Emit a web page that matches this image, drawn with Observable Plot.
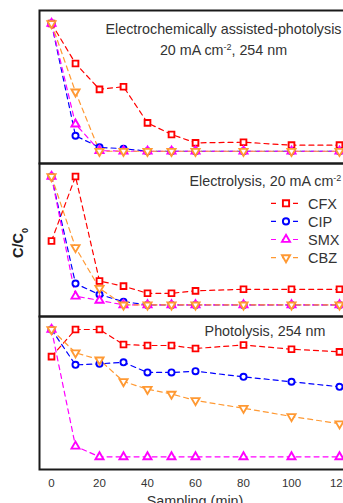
<!DOCTYPE html>
<html>
<head>
<meta charset="utf-8">
<script src="https://cdn.jsdelivr.net/npm/d3@7"></script>
<script src="https://cdn.jsdelivr.net/npm/@observablehq/plot@0.6"></script>
<style>
  html, body { margin: 0; padding: 0; background: #fff; overflow: hidden; }
  #wrap { position: relative; width: 343px; height: 503px; overflow: hidden; }
  #chart { position: absolute; left: 0; top: 0; width: 352px; }
  #chart svg { max-width: none !important; }
  #overlay { position: absolute; left: 0; top: 0; pointer-events: none; }
</style>
</head>
<body>
<div id="wrap"><div id="chart"></div><svg id="overlay" width="343" height="503"></svg></div>
<script>
// ---- data ----
const times = [0, 10, 20, 30, 40, 50, 60, 80, 100, 120];
const xTicks = [0, 20, 40, 60, 80, 100, 120];
const panels = ["EAP", "EL", "PH"];
const panelTitles = ["Electrochemically assisted-photolysis\n20 mA cm-2, 254 nm", "Electrolysis, 20 mA cm-2", "Photolysis, 254 nm"];
const series = ["CFX", "CIP", "SMX", "CBZ"];
const colors = ["#ff0000", "#0000ff", "#ff00ff", "#ff9933"];

const eapCFX = [1.0, 0.69, 0.49, 0.51, 0.23, 0.14, 0.075, 0.08, 0.057, 0.057];
const eapCIP = [1.0, 0.13, 0.04, 0.03, 0.01, 0.01, 0.01, 0.01, 0.01, 0.01];
const eapSMX = [1.0, 0.22, 0.015, 0.01, 0.01, 0.01, 0.01, 0.01, 0.01, 0.01];
const eapCBZ = [1.0, 0.47, 0.01, 0.01, 0.01, 0.01, 0.01, 0.01, 0.01, 0.01];

const elCFX = [0.50, 1.0, 0.19, 0.15, 0.095, 0.095, 0.114, 0.126, 0.126, 0.126];
const elCIP = [1.0, 0.17, 0.085, 0.03, 0.005, 0.005, 0.005, 0.005, 0.005, 0.005];
const elSMX = [1.0, 0.072, 0.04, 0.005, 0.005, 0.005, 0.005, 0.005, 0.005, 0.005];
const elCBZ = [1.0, 0.45, 0.134, 0.005, 0.005, 0.005, 0.005, 0.005, 0.005, 0.005];

const phCFX = [0.79, 1.0, 1.0, 0.884, 0.876, 0.876, 0.853, 0.88, 0.847, 0.827];
const phCIP = [1.0, 0.726, 0.734, 0.746, 0.667, 0.667, 0.677, 0.633, 0.595, 0.556];
const phSMX = [1.0, 0.095, 0.013, 0.013, 0.013, 0.013, 0.013, 0.013, 0.013, 0.013];
const phCBZ = [1.0, 0.82, 0.765, 0.597, 0.537, 0.50, 0.45, 0.39, 0.326, 0.27];

// ---- build table ----
const table = [
  [eapCFX, eapCIP, eapSMX, eapCBZ],
  [elCFX, elCIP, elSMX, elCBZ],
  [phCFX, phCIP, phSMX, phCBZ]
];
const rows = [];
table.forEach((group, p) => group.forEach((vals, s) => vals.forEach((v, i) =>
  rows.push({panel: panels[p], series: series[s], t: times[i], v}))));

const triDown = {
  draw(context, size) {
    const y = -Math.sqrt(size / (Math.sqrt(3) * 3));
    context.moveTo(0, -2 * y);
    context.lineTo(Math.sqrt(3) * y, y);
    context.lineTo(-Math.sqrt(3) * y, y);
    context.closePath();
  }
};
const symbols = ["square", "circle", "triangle", triDown];
const radii = {CFX: 3.5, CIP: 3.1, SMX: 3.0, CBZ: 3.0};

const titleData = panels.map((p, i) => ({panel: p, label: panelTitles[i]}));
const font = "'Liberation Sans', Arial, sans-serif";

const chart = Plot.plot({
  width: 352,
  height: 510,
  marginLeft: 39,
  marginRight: 2,
  marginTop: 10,
  marginBottom: 41,
  style: {fontFamily: font, fontSize: "11.5px", color: "#222", background: "transparent", maxWidth: "none"},
  x: {domain: [-5, 124.58], ticks: xTicks, tickSize: 0, tickPadding: 9, label: "Sampling (min)", labelAnchor: "center", labelArrow: "none", labelOffset: 36},
  y: {domain: [-0.085, 1.1008], axis: null},
  fy: {domain: panels, padding: 0, axis: null},
  color: {domain: series, range: colors},
  symbol: {domain: series, range: symbols},
  marks: [
    Plot.line(rows, {x: "t", y: "v", fy: "panel", z: "series", stroke: "series", strokeWidth: 1.2, strokeDasharray: "5,4"}),
    Plot.dot(rows, {x: "t", y: "v", fy: "panel", symbol: "series", stroke: "series", fill: "white", strokeWidth: 1.9, r: d => radii[d.series]}),
    Plot.text(titleData.filter(d => d.panel === "EAP"), {fy: "panel", text: "label", frameAnchor: "top", dx: 28.5, dy: 9, lineAnchor: "top", lineHeight: 1.47, fontSize: 14.3, fill: "#333"}),
    Plot.text(titleData.filter(d => d.panel === "EL"), {fy: "panel", text: "label", frameAnchor: "top-left", textAnchor: "start", dx: 150, dy: 17.7, lineAnchor: "middle", fontSize: 14.3, fill: "#333"}),
    Plot.text(titleData.filter(d => d.panel === "PH"), {fy: "panel", text: "label", frameAnchor: "top", dx: 70, dy: 14.7, lineAnchor: "middle", fontSize: 14.3, fill: "#333"}),
    Plot.frame({stroke: "#1a1a1a", strokeWidth: 2})
  ]
});
chart.style.maxWidth = "none";
document.getElementById("chart").appendChild(chart);

// axis label larger than tick labels
d3.select(chart).selectAll('g[aria-label="x-axis label"]').attr("font-size", "14.4px").attr("fill", "#333");
d3.select(chart).selectAll('g[aria-label="x-axis tick label"]').attr("fill", "#333");

// superscripts for "cm-2"
d3.select(chart).selectAll("text, tspan").each(function () {
  if (this.childElementCount === 0 && this.textContent.includes("cm-2")) {
    const parts = this.textContent.split("cm-2");
    const el = d3.select(this);
    el.text(null);
    el.append("tspan").text(parts[0] + "cm");
    el.append("tspan").attr("baseline-shift", "super").attr("font-size", "9px").text("-2");
    if (parts[1]) el.append("tspan").attr("baseline-shift", "0").text(parts[1]);
  }
});

// ---- legend + y label overlay ----
const ov = d3.select("#overlay");
const lg = ov.append("g").attr("font-family", font).attr("font-size", "14.5px");
series.forEach((s, i) => {
  const y = 203.3 + i * 18.1;
  lg.append("line").attr("x1", 271).attr("x2", 299).attr("y1", y).attr("y2", y)
    .attr("stroke", colors[i]).attr("stroke-width", 1.2).attr("stroke-dasharray", "5,6");
  const sym = symbols[i] === triDown ? triDown :
    {square: d3.symbolSquare, circle: d3.symbolCircle, triangle: d3.symbolTriangle}[symbols[i]];
  const r = radii[s];
  lg.append("path").attr("d", d3.symbol(sym, Math.PI * r * r)())
    .attr("transform", `translate(286,${y})`)
    .attr("fill", "white").attr("stroke", colors[i]).attr("stroke-width", 1.9);
  lg.append("text").attr("x", 308).attr("y", y).attr("dy", "0.36em").attr("fill", "#333").text(s);
});
const yl = ov.append("text").attr("transform", "translate(23,243) rotate(-90)")
  .attr("text-anchor", "middle").attr("font-family", font).attr("font-size", "14.5px")
  .attr("font-weight", "bold").attr("fill", "#222");
yl.append("tspan").text("C/C");
yl.append("tspan").attr("baseline-shift", "sub").attr("font-size", "9px").text("0");
</script>
</body>
</html>
